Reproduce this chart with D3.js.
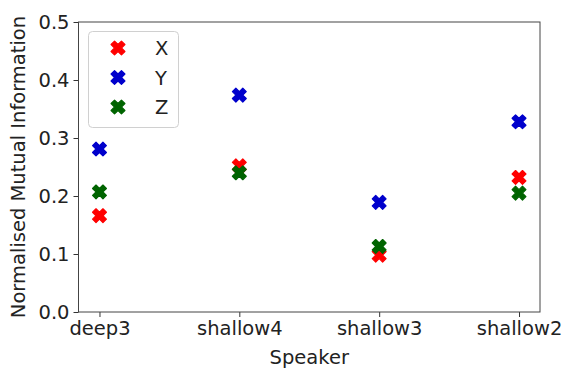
<!DOCTYPE html>
<html>
<head>
<meta charset="utf-8">
<script src="https://cdn.jsdelivr.net/npm/d3@7"></script>
<style>
  body { margin: 0; background: #fff; }
  text { font-family: "DejaVu Sans", sans-serif; fill: #222; }
</style>
</head>
<body>
<div class="chart"></div>
<script>
var speakers = ["deep3", "shallow4", "shallow3", "shallow2"];
var seriesNames = ["X", "Y", "Z"];
var seriesColors = ["#ff0000", "#0000cc", "#006400"];
var xValues = [0.166, 0.252, 0.098, 0.232];
var yValues = [0.281, 0.374, 0.189, 0.328];
var zValues = [0.207, 0.240, 0.113, 0.205];
var yTicks = [0, 0.1, 0.2, 0.3, 0.4, 0.5];

var width = 563, height = 371;
var margin = {left: 78.5, right: 23, top: 22, bottom: 59};

var svg = d3.select(".chart").append("svg")
    .attr("width", width)
    .attr("height", height);

var x = d3.scaleLinear().domain([-0.15, 3.15]).range([margin.left, width - margin.right]);
var y = d3.scaleLinear().domain([0, 0.5]).range([height - margin.bottom, margin.top]);

// axes
var xAxis = svg.append("g")
    .attr("transform", "translate(0," + (height - margin.bottom) + ")")
    .call(d3.axisBottom(x).tickValues([0, 1, 2, 3]).tickFormat(function(i) { return speakers[i] }).tickSizeOuter(0).tickSize(5).tickPadding(4));
var yAxis = svg.append("g")
    .attr("transform", "translate(" + margin.left + ",0)")
    .call(d3.axisLeft(y).tickValues(yTicks).tickFormat(d3.format(".1f")).tickSizeOuter(0).tickSize(5).tickPadding(4));

[xAxis, yAxis].forEach(function(g) {
    g.selectAll("text").style("font-size", "19.5px").style("font-family", "DejaVu Sans").attr("fill", "#222");
    g.selectAll("line").attr("stroke", "#333");
    g.select(".domain").remove();
});

// frame
svg.append("rect")
    .attr("x", margin.left)
    .attr("y", margin.top)
    .attr("width", width - margin.left - margin.right)
    .attr("height", height - margin.top - margin.bottom)
    .attr("fill", "none")
    .attr("stroke", "#444")
    .attr("stroke-width", 1);

// labels
svg.append("text")
    .attr("x", (margin.left + width - margin.right) / 2)
    .attr("y", 364)
    .attr("text-anchor", "middle")
    .style("font-size", "19.5px")
    .text("Speaker");
svg.append("text")
    .attr("transform", "translate(25," + ((margin.top + height - margin.bottom) / 2) + ") rotate(-90)")
    .attr("text-anchor", "middle")
    .style("font-size", "19.5px")
    .text("Normalised Mutual Information");

var series = [xValues, yValues, zValues];
var marker = d3.symbol().type(d3.symbolCross).size(120);

series.forEach(function(vals, s) {
    svg.selectAll(".pt" + s)
        .data(vals)
        .enter().append("path")
        .attr("d", marker)
        .attr("fill", seriesColors[s])
        .attr("stroke", seriesColors[s])
        .attr("stroke-width", 1.2)
        .attr("stroke-linejoin", "round")
        .attr("transform", function(d, i) {
            return "translate(" + x(i) + "," + y(d) + ") rotate(45)"
        });
});

// legend
var legend = svg.append("g");
legend.append("rect")
    .attr("x", 88.5).attr("y", 31.5)
    .attr("width", 90).attr("height", 96)
    .attr("rx", 4)
    .attr("fill", "#fff")
    .attr("fill-opacity", 0.8)
    .attr("stroke", "#d0d0d0");
seriesNames.forEach(function(name, s) {
    var ly = 48 + s * 29.5;
    legend.append("path")
        .attr("d", marker)
        .attr("fill", seriesColors[s])
        .attr("stroke", seriesColors[s])
        .attr("stroke-width", 1.2)
        .attr("stroke-linejoin", "round")
        .attr("transform", "translate(118," + ly + ") rotate(45)");
    legend.append("text")
        .attr("x", 155)
        .attr("y", ly + 7)
        .style("font-size", "19.5px")
        .text(name);
});
</script>
</body>
</html>
